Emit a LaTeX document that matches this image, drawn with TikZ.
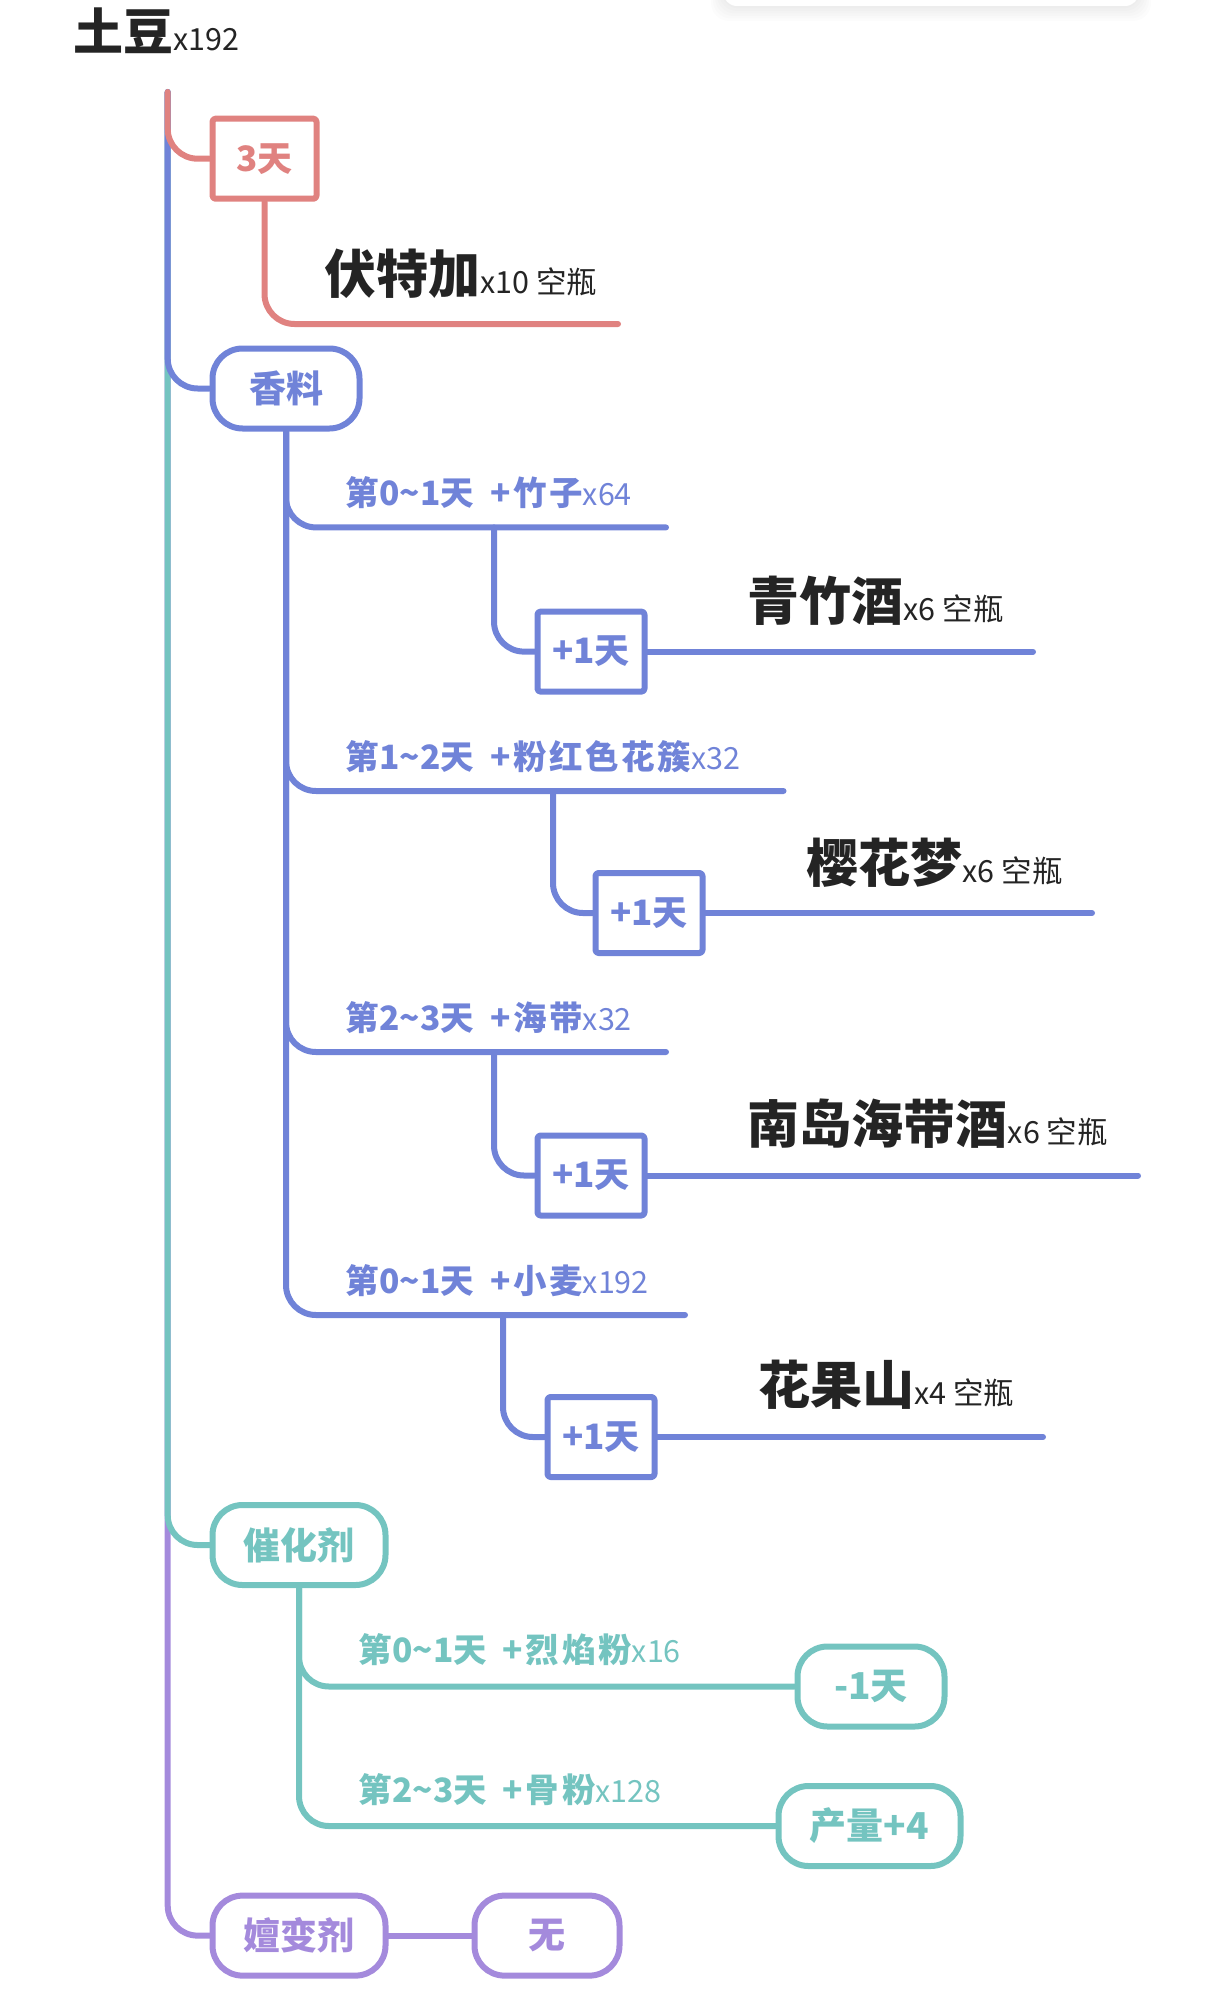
\documentclass[tikz,border=0pt]{standalone}
\usepackage{fontspec}
\setmainfont{Noto Sans CJK SC}
\definecolor{redbr}{RGB}{224,130,128}
\definecolor{bluebr}{RGB}{112,131,216}
\definecolor{tealbr}{RGB}{116,196,192}
\definecolor{purplebr}{RGB}{164,138,220}
\definecolor{inkdark}{RGB}{36,36,36}
\newcommand{\amount}[1]{{\fontsize{30.5}{35}\selectfont\mdseries #1}}
\newcommand{\til}{\textasciitilde}
\newcommand{\steptext}[3]{#1\hspace{16pt}{\addfontfeatures{LetterSpace=8}+#2}\amount{#3}}

\begin{document}
\begin{tikzpicture}[x=1pt,y=-1pt,line cap=round,line join=round,
  every node/.style={inner sep=0pt},
  twig/.style={line width=6pt,rounded corners=30pt},
  daybox/.style={draw,line width=6pt,fill=white,rounded corners=3pt,minimum width=107pt,minimum height=80pt,font=\fontsize{35}{40}\selectfont\bfseries},
  pill/.style={draw,line width=6pt,fill=white,rounded corners=30pt,minimum height=80pt,font=\fontsize{37}{42}\selectfont\bfseries},
  steplabel/.style={anchor=base west,font=\fontsize{33.5}{38}\selectfont\bfseries},
  drink/.style={anchor=base west,text=inkdark,font=\fontsize{52}{60}\selectfont\bfseries}]
  \useasboundingbox (0,0) rectangle (1220,2007);
  \foreach \s in {1,...,6} {
    \fill[black,opacity=0.012,rounded corners=18pt] (723-\s*2,-40) rectangle (1139+\s*2,6+\s*2.5);
  }
  \fill[white,rounded corners=14pt] (723,-40) rectangle (1139,6);

  \node[anchor=base west,text=inkdark,font=\fontsize{50}{56}\selectfont\bfseries] (potato) at (73,51) {土豆\amount{x192}};
  \coordinate (top) at (167.7,92);

  \node[daybox,draw=redbr,text=redbr,minimum width=104pt] (d3) at (264.5,158.7) {3天};
  \node[pill,draw=bluebr,text=bluebr,minimum width=147pt] (spice) at (286,388.5) {香料};
  \node[pill,draw=tealbr,text=tealbr,minimum width=173pt] (cat) at (299,1545) {催化剂};
  \node[pill,draw=purplebr,text=purplebr,minimum width=173pt] (mut) at (299,1935.6) {嬗变剂};
  \node[pill,draw=purplebr,text=purplebr,minimum width=145pt] (none) at (547,1935.6) {无};

  \draw[twig,purplebr] (top) |- (mut.west);
  \draw[twig,tealbr] (top) |- (cat.west);
  \draw[twig,bluebr] (top) |- (spice.west);
  \draw[twig,redbr] (top) |- (d3.west);

  \coordinate (vend) at (618,324);
  \draw[twig,redbr] (d3.south) |- (vend);
  \node[drink] (vodka) at (324,293) {伏特加\amount{x10 空瓶}};

  \coordinate (b1end) at (666,527.4);
  \coordinate (b2end) at (783.5,791);
  \coordinate (b3end) at (666,1052);
  \coordinate (b4end) at (685,1315);
  \draw[twig,bluebr] (spice.south) |- (b4end);
  \draw[twig,bluebr] (spice.south) |- (b3end);
  \draw[twig,bluebr] (spice.south) |- (b2end);
  \draw[twig,bluebr] (spice.south) |- (b1end);
  \node[steplabel,text=bluebr] (s1) at (345.7,505) {\steptext{第0\til1天}{竹子}{x64}};
  \node[steplabel,text=bluebr] (s2) at (345.7,769) {\steptext{第1\til2天}{粉红色花簇}{x32}};
  \node[steplabel,text=bluebr] (s3) at (345.7,1030) {\steptext{第2\til3天}{海带}{x32}};
  \node[steplabel,text=bluebr] (s4) at (345.7,1293) {\steptext{第0\til1天}{小麦}{x192}};

  \node[daybox,draw=bluebr,text=bluebr] (p1) at (591,651.6) {+1天};
  \node[daybox,draw=bluebr,text=bluebr] (p2) at (649,913) {+1天};
  \node[daybox,draw=bluebr,text=bluebr] (p3) at (591,1175.5) {+1天};
  \node[daybox,draw=bluebr,text=bluebr] (p4) at (601,1437) {+1天};
  \coordinate (f1) at (494,527.4);
  \coordinate (f2) at (553,791);
  \coordinate (f3) at (494,1052);
  \coordinate (f4) at (503,1315);
  \coordinate (q1) at (1033,651.6);
  \coordinate (q2) at (1092,913);
  \coordinate (q3) at (1138,1175.5);
  \coordinate (q4) at (1043,1437);
  \foreach \i in {1,...,4} {
    \draw[twig,bluebr] (f\i) |- (p\i.west);
    \draw[twig,bluebr] (p\i.east) -- (q\i);
  }
  \node[drink] (greenbamboo) at (747.6,620) {青竹酒\amount{x6 空瓶}};
  \node[drink] (sakura) at (806.5,882) {樱花梦\amount{x6 空瓶}};
  \node[drink] (kelpwine) at (747.6,1143) {南岛海带酒\amount{x6 空瓶}};
  \node[drink] (huaguo) at (758,1404) {花果山\amount{x4 空瓶}};

  \node[pill,draw=tealbr,text=tealbr,minimum width=147pt] (minus) at (871,1686.5) {-1天};
  \node[pill,draw=tealbr,text=tealbr,minimum width=182pt] (yield) at (869.5,1826) {产量+4};
  \draw[twig,tealbr] (cat.south) |- (yield.west);
  \draw[twig,tealbr] (cat.south) |- (minus.west);
  \node[steplabel,text=tealbr] (c1) at (358.5,1662) {\steptext{第0\til1天}{烈焰粉}{x16}};
  \node[steplabel,text=tealbr] (c2) at (358.5,1802.5) {\steptext{第2\til3天}{骨粉}{x128}};

  \draw[twig,purplebr] (mut.east) -- (none.west);
\end{tikzpicture}
\end{document}
